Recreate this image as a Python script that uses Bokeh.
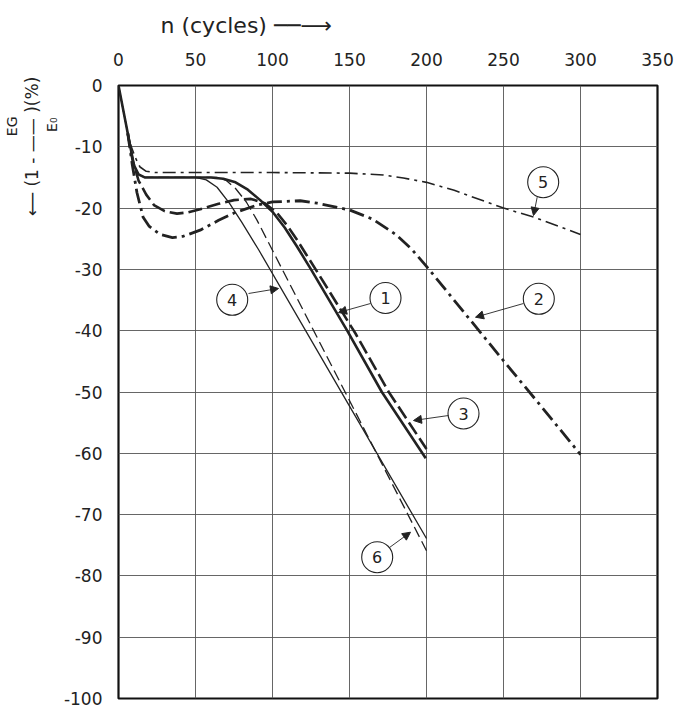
import math
from bokeh.plotting import figure
from bokeh.models import Range1d, FixedTicker, Arrow, NormalHead, ColumnDataSource, Title
from bokeh.embed import file_html
from bokeh.resources import INLINE
from bokeh.core.properties import value

# ---------------- data ----------------
x_ticks = [0, 50, 100, 150, 200, 250, 300, 350]
y_ticks = [0, -10, -20, -30, -40, -50, -60, -70, -80, -90, -100]

c1_x = [0, 5, 10, 13, 17, 60, 68, 76, 84, 92, 100, 108, 116, 125, 148.5, 171, 199.5]
c1_y = [0, -6.5, -13, -14.5, -15, -15, -15.2, -15.8, -17, -18.7, -20.6, -23.2, -26.3, -30, -40, -50, -60.8]

c2_x = [6, 9, 12, 16, 20, 27, 35, 42, 53, 65, 75, 90, 100, 118, 129, 150, 165, 180, 190, 200, 225, 250, 275, 300]
c2_y = [-7.8, -13, -17.5, -21.5, -23, -24.3, -24.8, -24.6, -23.6, -22, -20.8, -19.5, -19, -18.8, -19.2, -20.3, -21.8, -24.3, -26.6, -29.5, -37.2, -44.9, -52.5, -60.2]

c3_x = [6, 9, 13, 18, 23, 30, 38, 45, 53, 65, 75, 86, 95, 103, 110, 116, 122, 130, 154, 175.5, 200]
c3_y = [-7.8, -12, -15.5, -17.8, -19.5, -20.5, -20.9, -20.7, -20.2, -19.3, -18.7, -18.5, -19.2, -20.8, -23, -25.2, -27.6, -30.8, -40.5, -50, -59.3]

c4_x = [0, 5, 10, 13, 17, 50, 57, 64, 72, 80, 91, 150, 200]
c4_y = [0, -6.5, -13, -14.5, -15, -15, -15.4, -16.6, -19.2, -22.3, -26.8, -52.3, -73.9]

c5_x = [7, 11, 14, 18, 24, 60, 100, 150, 172, 185, 200, 218, 250, 270, 300]
c5_y = [-9.1, -11.8, -13.3, -14, -14.2, -14.2, -14.2, -14.3, -14.6, -15.1, -15.8, -17.1, -20, -21.5, -24.3]

c6_x = [0, 5, 10, 13, 17, 65, 70, 76, 83, 90, 99.8, 150, 200]
c6_y = [0, -6.5, -13, -14.5, -15, -15, -15.5, -16.8, -19, -22, -26.8, -51.4, -75.9]

curve_names = ["1", "2", "3", "4", "5", "6"]

# ---------------- geometry ----------------
W, H = 679, 709
L, R, T, B = 118, 22, 85, 11
FW, FH = W - L - R, H - T - B


def dx(px):
    return (px - L) * 350.0 / FW


def dy(py):
    return -(py - T) * 100.0 / FH


INK = "#222222"
FONT = "DejaVu Sans"

p = figure(width=W, height=H, x_range=Range1d(0, 350), y_range=Range1d(-100, 0), title=None,
           x_axis_location="above", output_backend="svg", toolbar_location=None,
           min_border_left=L, min_border_right=R, min_border_top=T, min_border_bottom=B)
p.background_fill_color = "white"
p.border_fill_color = "white"
p.outline_line_color = "#111111"
p.outline_line_width = 2.2

p.xaxis.ticker = FixedTicker(ticks=x_ticks)
p.yaxis.ticker = FixedTicker(ticks=y_ticks)
p.yaxis.major_label_overrides = {v: ("0" if v == 0 else "-%d" % abs(v)) for v in y_ticks}
p.xaxis.major_label_overrides = {v: str(v) for v in x_ticks}
for ax in (p.xaxis, p.yaxis):
    ax.axis_line_color = None
    ax.major_tick_line_color = None
    ax.minor_tick_line_color = None
    ax.major_tick_out = 0
    ax.major_tick_in = 0
    ax.minor_tick_out = 0
    ax.major_label_text_font = FONT
    ax.major_label_text_font_size = "17px"
    ax.major_label_text_color = INK
p.xaxis.major_label_standoff = 20
p.yaxis.major_label_standoff = 16

p.xgrid.ticker = FixedTicker(ticks=x_ticks)
p.ygrid.ticker = FixedTicker(ticks=y_ticks)
for g in (p.xgrid, p.ygrid):
    g.grid_line_color = "#555555"
    g.grid_line_width = 0.9

# ---------------- curves ----------------
p.line(c4_x, c4_y, line_color=INK, line_width=1.3)
p.line(c6_x, c6_y, line_color=INK, line_width=1.3, line_dash="11 5")
p.line(c5_x, c5_y, line_color=INK, line_width=1.6, line_dash="13 5 3 5")
p.line(c3_x, c3_y, line_color=INK, line_width=2.6, line_dash="14 5")
p.line(c2_x, c2_y, line_color=INK, line_width=2.8, line_dash="15 5 3 5")
p.line(c1_x, c1_y, line_color=INK, line_width=2.6)

# ---------------- callout circles ----------------
circ_px = [(385, 297.5), (538.3, 298.3), (463, 413), (231.7, 299.3), (542.7, 181.7), (376.7, 556.7)]
lead_px = [((370, 303), (338, 312)), ((523, 303), (475, 316.7)), ((448, 415), (413, 420)),
           ((248, 293), (278, 288)), ((536.7, 196.7), (533, 215)), ((389, 547), (410, 531.7))]

csrc = ColumnDataSource(dict(x=[dx(c[0]) for c in circ_px], y=[dy(c[1]) for c in circ_px], t=curve_names))
p.scatter("x", "y", source=csrc, marker="circle", size=31, fill_color="white",
          line_color=INK, line_width=1.1)
p.text("x", "y", text="t", source=csrc, text_align="center", text_baseline="middle",
       text_font=value(FONT), text_font_size="16px", text_color=INK)

for (s, e) in lead_px:
    p.add_layout(Arrow(end=NormalHead(size=8, fill_color=INK, line_color=INK, line_width=1),
                       x_start=dx(s[0]), y_start=dy(s[1]), x_end=dx(e[0]), y_end=dy(e[1]),
                       line_color=INK, line_width=0.9))

# ---------------- axis titles (side-panel titles) ----------------
top_title = Title(text="n (cycles)  \u2500\u2500\u27f6", align="left", offset=42, vertical_align="middle",
                  text_font=FONT, text_font_size="22px", text_font_style="normal",
                  text_color=INK, standoff=21)
p.add_layout(top_title, "above")

# y label, built as three columns: denominator (nearest axis), main line, numerator
den = Title(text="E\u2080", align="right", offset=32, vertical_align="middle",
            text_font=FONT, text_font_size="14px", text_font_style="normal",
            text_color=INK, standoff=0)
main = Title(text="\u27f5    (1 - \u2014\u2014 )(%)", align="right", offset=-25, vertical_align="middle",
             text_font=FONT, text_font_size="17px", text_font_style="normal",
             text_color=INK, standoff=0)
num = Title(text="EG", align="right", offset=31, vertical_align="middle",
            text_font=FONT, text_font_size="14px", text_font_style="normal",
            text_color=INK, standoff=0)
p.add_layout(den, "left")
p.add_layout(main, "left")
p.add_layout(num, "left")

open("out.html", "w").write(file_html(p, INLINE))
